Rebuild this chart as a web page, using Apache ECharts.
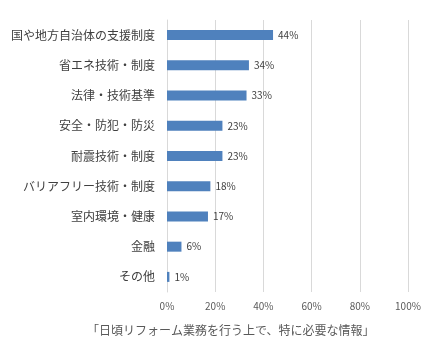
<!DOCTYPE html>
<html><head><meta charset="utf-8">
<script src="https://cdn.jsdelivr.net/npm/echarts@6/dist/echarts.min.js"></script>
<style>html,body{margin:0;padding:0;background:#fff}#c{width:431px;height:359px}</style>
</head><body><div id="c"></div>
<script>
const categories = ["国や地方自治体の支援制度","省エネ技術・制度","法律・技術基準","安全・防犯・防災","耐震技術・制度","バリアフリー技術・制度","室内環境・健康","金融","その他"];
const values = [44,34,33,23,23,18,17,6,1];
const xTicks = [0,20,40,60,80,100];
const titleText = "「日頃リフォーム業務を行う上で、特に必要な情報」";
const font = "'Noto Sans CJK JP', sans-serif";
const chart = echarts.init(document.getElementById('c'));
chart.setOption({
  animation:false,
  textStyle:{fontFamily:font},
  title:{text:titleText,left:82,top:319,textStyle:{fontSize:12,fontWeight:'normal',color:'#595959',fontFamily:font}},
  grid:{left:167,right:23,top:20,height:272,containLabel:false},
  xAxis:{type:'value',min:0,max:100,interval:20,
    axisLine:{show:false},axisTick:{show:false},
    splitLine:{show:true,lineStyle:{color:'#d9d9d9',width:1}},
    axisLabel:{formatter:v=>v+'%',color:'#595959',fontSize:10,margin:9,fontFamily:font}},
  yAxis:{type:'category',data:categories,inverse:true,
    axisLine:{show:true,lineStyle:{color:'#d9d9d9'}},axisTick:{show:false},
    axisLabel:{color:'#404040',fontSize:12,margin:12,fontFamily:font}},
  series:[{type:'bar',data:values,barWidth:10,itemStyle:{color:'#4f81bd'},
    label:{show:true,position:'right',formatter:p=>p.value+'%',color:'#404040',fontSize:10,distance:5,fontFamily:font}}]
});
</script></body></html>
